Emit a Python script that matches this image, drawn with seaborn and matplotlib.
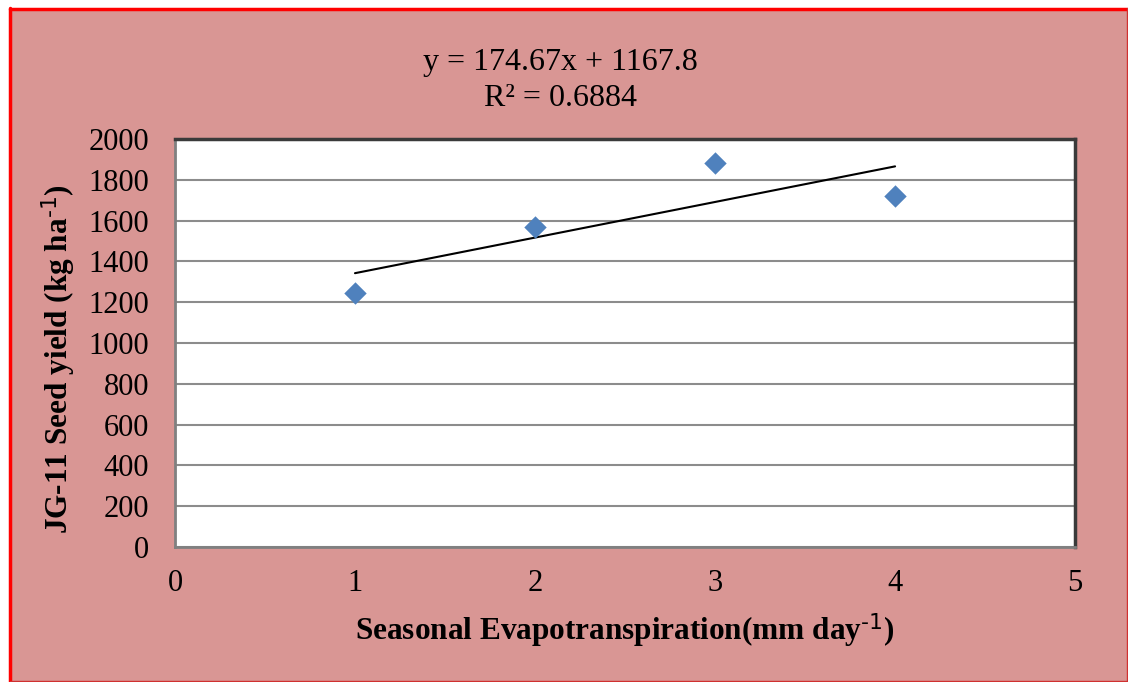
import numpy as np
import pandas as pd
import matplotlib
matplotlib.use("Agg")
import matplotlib.pyplot as plt
import seaborn as sns
from matplotlib.patches import Rectangle

# Data
et_values = [1, 2, 3, 4]
seed_yield = [1246, 1567, 1882, 1723]
x_ticks = [0, 1, 2, 3, 4, 5]
y_ticks = [0, 200, 400, 600, 800, 1000, 1200, 1400, 1600, 1800, 2000]
eq_text = "y = 174.67x + 1167.8"
r2_text = "R² = 0.6884"

df = pd.DataFrame({"et": et_values, "yield": seed_yield})

sns.set_theme(style="white")
plt.rcParams["font.family"] = ["Liberation Serif", "DejaVu Serif"]
plt.rcParams["mathtext.default"] = "regular"
plt.rcParams["text.color"] = "black"
plt.rcParams["axes.labelcolor"] = "black"
plt.rcParams["xtick.color"] = "black"
plt.rcParams["ytick.color"] = "black"

bg = "#D99694"
fig = plt.figure(figsize=(11.28, 6.82), dpi=100, facecolor="white")
fig.patches.append(Rectangle((0.008, 0.0), 0.991, 0.988, transform=fig.transFigure,
                             facecolor=bg, edgecolor="none", zorder=-2))
# red frame
fig.add_artist(plt.Line2D([0.0085, 0.0085], [0.0, 0.988], color="red", lw=2.5, transform=fig.transFigure))
fig.add_artist(plt.Line2D([0.0085, 0.999], [0.987, 0.987], color="red", lw=2.5, transform=fig.transFigure))
fig.add_artist(plt.Line2D([0.999, 0.999], [0.0, 0.988], color="#d03030", lw=1.0, transform=fig.transFigure))
fig.add_artist(plt.Line2D([0.0085, 0.999], [0.001, 0.001], color="#d03030", lw=1.0, transform=fig.transFigure))

ax = fig.add_axes([0.1551, 0.198, 0.798, 0.598])
ax.set_facecolor("white")

sns.regplot(data=df, x="et", y="yield", scatter=False, ci=None, ax=ax,
            line_kws={"color": "black", "lw": 1.5, "zorder": 3})
sns.scatterplot(data=df, x="et", y="yield", marker="D", s=130, color="#4F81BD",
                edgecolor="#4F81BD", linewidth=0, ax=ax, zorder=4)

ax.set_xlim(0, 5)
ax.set_ylim(0, 2000)
ax.set_xticks(x_ticks)
ax.set_yticks(y_ticks)
ax.set_xticklabels([str(v) for v in x_ticks], fontsize=22)
ax.set_yticklabels([str(v) for v in y_ticks], fontsize=22)
ax.yaxis.grid(True, color="#8c8c8c", lw=1.5)
ax.xaxis.grid(False)
ax.set_axisbelow(True)

for side in ["left", "bottom"]:
    ax.spines[side].set_color("#808080")
    ax.spines[side].set_linewidth(2)
for side in ["top", "right"]:
    ax.spines[side].set_color("#3a3a3a")
    ax.spines[side].set_linewidth(2.5)

ax.tick_params(axis="both", direction="out", length=7, width=1.5, color="#8c8c8c",
               labelcolor="black")
ax.tick_params(axis="y", pad=11.5)
ax.tick_params(axis="x", pad=9)

ax.set_xlabel(r"Seasonal Evapotranspiration(mm day$^{\text{-1}}$)", fontsize=22.5,
              fontweight="bold", labelpad=10)
ax.set_ylabel(r"JG-11 Seed yield (kg ha$^{\text{-1}}$)", fontsize=22.5,
              fontweight="bold")
ax.yaxis.set_label_coords(-0.108, 0.46)

fig.text(0.497, 0.909, eq_text, ha="center", va="center", fontsize=23)
fig.text(0.497, 0.856, r2_text, ha="center", va="center", fontsize=23)

fig.savefig("out.png", dpi=100, facecolor=fig.get_facecolor())
